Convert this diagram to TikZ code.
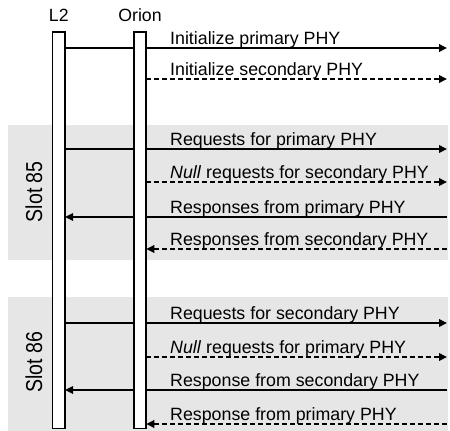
\documentclass[tikz,border=0pt]{standalone}
\usepackage{fontspec}
\setmainfont{Liberation Sans}
\usepackage{graphicx}
\usetikzlibrary{arrows.meta}
\pgfdeclarelayer{bg}
\pgfdeclarelayer{mid}
\pgfsetlayers{bg,mid,main}
\definecolor{slotgray}{RGB}{230,230,230}
\begin{document}
\begin{tikzpicture}[x=1pt,y=-1pt,
  lifeline/.style={draw, fill=white, line width=1.8pt, minimum width=12.6pt,
    minimum height=396.6pt, inner sep=0pt, outer sep=0pt},
  head/.style={font=\fontsize{17.7}{20}\selectfont, anchor=base, inner sep=0pt},
  msgtext/.style={font=\fontsize{17.8}{20}\selectfont, anchor=base west, inner sep=0pt},
  slotlabel/.style={font=\fontsize{23}{26}\selectfont, rotate=90, inner sep=0pt},
  slotbox/.style={fill=slotgray, draw=none},
  msg/.style={line width=1.9pt},
  opt/.style={msg, dash pattern=on 5pt off 3pt},
  tip/.style={-{Triangle[length=8pt,width=7.5pt]}}
]
\useasboundingbox (0,0) rectangle (450,431);

% lifelines
\node[lifeline] (L2bar) at (58.8,230.2) {};
\node[lifeline] (ORbar) at (140,230.2) {};
\node[head] (L2lab) at (58.8,21) {L2};
\node[head] (ORlab) at (140,21) {Orion};

% slot backgrounds
\begin{pgfonlayer}{bg}
  \path[slotbox] (8,125) rectangle (448,260);
  \path[slotbox] (8,297) rectangle (448,431);
\end{pgfonlayer}
\node[slotlabel] (s85) at (34,191.7) {\scalebox{0.85}[1]{Slot 85}};
\node[slotlabel] (s86) at (34,362) {\scalebox{0.85}[1]{Slot 86}};

% right ends
\coordinate (R1) at (447,48);
\coordinate (R2) at (447,79);
\coordinate (R3) at (447,149);
\coordinate (R4) at (447,182);
\coordinate (R5) at (447,217);
\coordinate (R6) at (447,249);
\coordinate (R7) at (447,323);
\coordinate (R8) at (447,357);
\coordinate (R9) at (447,390);
\coordinate (R10) at (447,424);

\begin{pgfonlayer}{mid}
  \draw[msg,tip] (L2bar.east |- R1) -- (R1);
  \draw[opt,tip] (ORbar.east |- R2) -- (R2);
  \draw[msg,tip] (L2bar.east |- R3) -- (R3);
  \draw[opt,tip] (ORbar.east |- R4) -- (R4);
  \draw[msg,tip] (R5) -- (L2bar.east |- R5);
  \draw[opt,tip] (R6) -- (ORbar.east |- R6);
  \draw[msg,tip] (L2bar.east |- R7) -- (R7);
  \draw[opt,tip] (ORbar.east |- R8) -- (R8);
  \draw[msg,tip] (R9) -- (L2bar.east |- R9);
  \draw[opt,tip] (R10) -- (ORbar.east |- R10);
\end{pgfonlayer}

\node[msgtext] (t1) at (170,44.5) {Initialize primary PHY};
\node[msgtext] (t2) at (170,75.5) {Initialize secondary PHY};
\node[msgtext] (t3) at (170,145.5) {Requests for primary PHY};
\node[msgtext] (t4) at (170,178.5) {\textit{Null} requests for secondary PHY};
\node[msgtext] (t5) at (170,213.5) {Responses from primary PHY};
\node[msgtext] (t6) at (170,245.5) {Responses from secondary PHY};
\node[msgtext] (t7) at (170,319.5) {Requests for secondary PHY};
\node[msgtext] (t8) at (170,353.5) {\textit{Null} requests for primary PHY};
\node[msgtext] (t9) at (170,386.5) {Response from secondary PHY};
\node[msgtext] (t10) at (170,420.5) {Response from primary PHY};
\end{tikzpicture}
\end{document}
